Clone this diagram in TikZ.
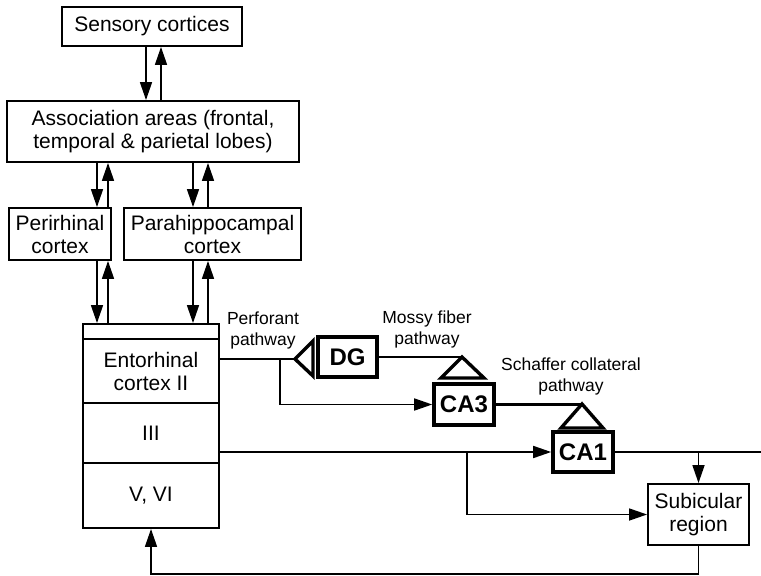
\documentclass[tikz,border=0pt]{standalone}
\usepackage{fontspec}
\setmainfont{Liberation Sans}
\usetikzlibrary{arrows.meta}
\begin{document}
\begin{tikzpicture}[x=1pt,y=-1pt,
  box/.style={draw,line width=1.9pt,inner sep=0pt,align=center,font=\fontsize{21}{23}\selectfont},
  hbox/.style={draw,line width=3.6pt,inner sep=0pt,font=\fontsize{24}{26}\selectfont\bfseries},
  lab/.style={align=center,font=\fontsize{17.5}{21}\selectfont,inner sep=0pt},
  conn/.style={line width=1.7pt},
  arr/.style={conn,-{Triangle[length=18pt,width=12pt]}},
  thk/.style={line width=2.8pt},
  syn/.style={line width=3.4pt,line join=miter}]
\useasboundingbox (0,0) rectangle (761,576);

% boxes
\node[box,minimum width=180pt,minimum height=39pt] (sens) at (152,26.5) {Sensory cortices};
\node[box,minimum width=292pt,minimum height=61pt] (assoc) at (153,131.5) {Association areas (frontal,\\temporal \& parietal lobes)};
\node[box,minimum width=102pt,minimum height=52pt] (peri) at (60,234) {Perirhinal\\cortex};
\node[box,minimum width=177pt,minimum height=52pt] (para) at (212.5,234) {Parahippocampal\\cortex};
\node[box,minimum width=136pt,minimum height=15pt] (entA) at (151,331.5) {};
\node[box,minimum width=136pt,minimum height=64pt] (entB) at (151,371) {Entorhinal\\cortex II};
\node[box,minimum width=136pt,minimum height=60pt] (entC) at (151,433) {III};
\node[box,minimum width=136pt,minimum height=65pt] (entD) at (151,495.5) {V, VI};
\node[hbox,minimum width=59pt,minimum height=40pt] (dg) at (347.5,357) {DG};
\node[hbox,minimum width=60pt,minimum height=41pt] (ca3) at (464,404.5) {CA3};
\node[hbox,minimum width=60pt,minimum height=40pt] (ca1) at (583,452) {CA1};
\node[box,minimum width=101pt,minimum height=61pt] (sub) at (698.5,514.5) {Subicular\\region};

% labels
\node[lab] (lperf) at (263,330.5) {Perforant\\pathway};
\node[lab] (lmossy) at (427,329) {Mossy fiber\\pathway};
\node[lab] (lschaf) at (571,376) {Schaffer collateral\\pathway};

% column coordinates
\coordinate (x146) at (146,0);
\coordinate (x161) at (161,0);
\coordinate (x97) at (97,0);
\coordinate (x108) at (108,0);
\coordinate (x193) at (193,0);
\coordinate (x208) at (208,0);

% vertical arrows
\draw[arr] (sens.south -| x146) -- (assoc.north -| x146);
\draw[arr] (assoc.north -| x161) -- (sens.south -| x161);
\draw[arr] (assoc.south -| x97) -- (peri.north -| x97);
\draw[arr] (peri.north -| x108) -- (assoc.south -| x108);
\draw[arr] (assoc.south -| x193) -- (para.north -| x193);
\draw[arr] (para.north -| x208) -- (assoc.south -| x208);
\draw[arr] (peri.south -| x97) -- (entA.north -| x97);
\draw[arr] (entA.north -| x108) -- (peri.south -| x108);
\draw[arr] (para.south -| x193) -- (entA.north -| x193);
\draw[arr] (entA.north -| x208) -- (para.south -| x208);

% perforant pathway
\coordinate (ptip) at (295,359);
\coordinate (pb) at (280,359);
\draw[thk] (entB.east |- ptip) -- (ptip);
\draw[syn] (ptip) -- (313,341) -- (313,376) -- cycle;
\draw[arr] (pb) |- (ca3.west);

% mossy fiber
\coordinate (mapex) at (462,357);
\draw[thk] (dg.east) -- (mapex);
\draw[syn] (mapex) -- (484,378) -- (441,378) -- cycle;

% schaffer collateral
\coordinate (sapex) at (582,404);
\draw[thk] (ca3.east) -- (ca3.east -| sapex) -- (sapex);
\draw[syn] (sapex) -- (603,428) -- (561,428) -- cycle;

% layer III
\coordinate (b3) at (467,452);
\draw[arr] (entC.east |- ca1.west) -- (ca1.west);
\draw[arr] (b3) |- (sub.west);

% CA1 output
\coordinate (rend) at (761,452);
\draw[conn] (ca1.east) -- (rend);
\draw[arr] (ca1.east -| sub.north) -- (sub.north);

% return to entorhinal deep layers
\coordinate (bot) at (0,574);
\draw[arr] (sub.south) -- (sub.south |- bot) -| (entD.south);
\end{tikzpicture}
\end{document}
